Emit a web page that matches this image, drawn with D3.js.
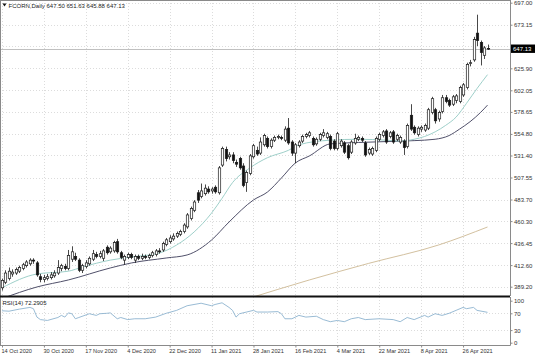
<!DOCTYPE html>
<html><head><meta charset="utf-8">
<script src="https://cdnjs.cloudflare.com/ajax/libs/d3/7.8.5/d3.min.js"></script>
<style>body{margin:0;background:#fff;} svg{display:block;font-family:"Liberation Sans",Arial,sans-serif;}</style>
</head><body><svg id="c" width="536" height="357"></svg>
<script>
// ---------- data ----------
const symbolTitle = "FCORN,Daily";
const lastOHLC = ["647.50","651.63","645.88","647.13"];
const barOpen  = [388,394,398,403,404,406,409,412,414,418,415,400,397,398,399,401,404,409,411,409,419,422,418,407,411,414,419,424,422,420,432,427,428,438,426,418,421,424,418,422,420,422,421,423,424,428,429,435,438,441,444,446,449,454,463,472,491,487,490,495,493,497,491,521,538,530,532,524,528,520,502,512,530,537,534,543,550,541,548,551,551,548,561,546,534,542,547,552,553,550,544,549,553,551,552,547,539,542,545,542,535,545,549,550,545,534,533,537,549,553,558,552,557,549,546,547,541,575,562,554,560,559,561,578,581,571,579,594,591,587,591,590,597,605,631,635,664,654,640,647.5];
const barHigh  = [398,407,410,408,410,412,415,418,420,420,417,403,402,403,405,407,418,414,414,429,433,426,420,414,418,422,429,427,428,430,434,433,439,441,428,424,426,426,424,424,425,424,425,428,430,431,438,442,445,447,449,451,458,469,476,483,494,501,500,498,497,499,520,541,541,535,535,527,530,523,515,533,544,541,551,555,552,550,553,554,553,563,572,548,545,548,554,556,558,552,551,556,560,557,554,549,557,549,547,544,548,555,553,552,547,540,541,552,556,559,560,558,559,555,553,549,566,587,564,563,564,566,583,595,583,580,597,597,593,597,598,607,610,632,635,660,684,656,650,651.63];
const barLow   = [385,392,396,400,402,404,407,410,412,414,400,394,394,396,397,399,402,406,407,407,416,417,405,404,409,412,417,420,420,417,424,425,426,425,419,413,419,419,415,418,418,419,419,421,422,425,427,433,436,439,442,444,447,452,461,470,480,485,488,490,490,490,489,519,525,527,523,519,516,497,492,510,528,531,532,541,539,539,546,549,548,546,543,531,523,540,545,550,551,541,542,547,551,549,537,537,537,540,533,527,533,543,547,546,530,532,531,535,547,551,544,550,544,547,544,532,539,558,554,552,557,557,559,576,566,568,577,588,584,585,588,588,595,603,628,633,650,629,636,645.88];
const barClose = [396,404,406,405,408,410,413,416,418,417,402,397,399,400,402,404,410,412,409,423,427,419,407,412,415,420,425,422,425,428,426,431,437,427,421,422,424,421,422,420,422,421,423,426,428,427,436,440,442,444,447,449,456,467,474,481,483,493,496,492,495,492,518,539,528,532,526,522,518,499,513,531,542,533,546,553,541,548,551,552,550,560,545,534,543,546,552,554,556,543,549,554,556,555,539,539,555,547,535,529,546,550,551,548,532,538,539,550,554,557,546,556,546,553,551,540,564,560,556,561,562,564,581,593,569,578,594,590,586,595,596,605,608,630,632,657,656,643,648,647.13];

// moving averages, read at sample bars
const maFastBars   = [0,10,19,23,31,37,45,50,55,60,63,66,71,76,82,85,94,102,110,114,118,121,124,127,130,133,136,139];
const maFastValues = [388,403,406,410.5,418,421.4,425.7,434.4,448.5,469,485,502,518,529,537,543,548,549,548,547,549,552,557,564,573,588,604,619];
const maSlowBars   = [0,10,19,31,37,47,53,60,65,72,76,80,84,88,94,102,110,118,124,128,131,134,137,139];
const maSlowValues = [376.3,388.9,396.5,409.5,414.9,420.3,423.6,439.8,459.3,483.2,491.8,507,523.3,530.9,544,545.5,546.5,547.5,549,553,560,568,578,586];
const maLongBars   = [70,88,105,125,139];
const maLongValues = [375.8,396.5,414.5,434.4,453.9];

// RSI(14), read at sample bars
const rsiBars   = [0,2,5,8,9,10,11,13,16,17,18,19,20,21,22,25,27,28,30,31,33,34,36,38,41,44,47,50,53,57,60,61,63,65,66,67,68,70,72,73,76,79,80,81,83,85,87,90,92,94,96,98,100,102,104,108,112,114,116,118,121,122,124,126,128,130,132,133,135,136,139];
const rsiValues = [76,75,80,84,81,61,55,53,60,65,61,71,69,57,60,69,65,69,70,71,57,60,55,57,57,61,70,77,88,94,88,91,95,84,77,61,69,73,77,73,73,74,69,57,57,65,61,63,55,50,53,50,57,60,55,57,55,50,60,55,65,61,69,65,70,77,84,81,84,77,72.29];
const rsiLast = "72.2905";

// axis labels (the 649.75 level is hidden under the last-price box)
const priceTicks = [697.00,673.15,649.75,625.90,602.05,578.65,554.80,531.40,507.55,483.70,460.30,436.45,412.60,389.20];
const hiddenPriceTick = 649.75;
const rsiTicks = [100,70,30,0];
const dateBars = [0,12,24,36,48,60,72,84,96,108,120,132];
const dateLabels = ["14 Oct 2020","30 Oct 2020","17 Nov 2020","4 Dec 2020","22 Dec 2020","11 Jan 2021","28 Jan 2021","16 Feb 2021","4 Mar 2021","22 Mar 2021","8 Apr 2021","26 Apr 2021"];

// ---------- layout ----------
const svg = d3.select("#c");
const plotRight = 510, mainBottom = 296, rsiTop = 297, rsiBottom = 345.5;
const x = d3.scaleLinear().domain([0,139]).range([2,487.5]);
const y = d3.scaleLinear().domain([389.2,697.0]).range([286.7,2.7]);
const yr = d3.scaleLinear().domain([0,100]).range([342.7,300.7]);
const gridCol = "#cdcdcd";

svg.append("rect").attr("width",536).attr("height",357).attr("fill","#fff");
const defs = svg.append("defs");
defs.append("clipPath").attr("id","mainClip").append("rect").attr("x",0).attr("y",0).attr("width",plotRight).attr("height",mainBottom);
defs.append("clipPath").attr("id","rsiClip").append("rect").attr("x",0).attr("y",rsiTop).attr("width",plotRight).attr("height",rsiBottom-rsiTop);

// grid
const grid = svg.append("g").attr("stroke",gridCol).attr("stroke-width",0.7).attr("stroke-dasharray","1,2");
grid.selectAll(".hg").data(priceTicks).join("line")
  .attr("x1",0).attr("x2",plotRight).attr("y1",d=>Math.round(y(d))+0.5).attr("y2",d=>Math.round(y(d))+0.5);
grid.selectAll(".vg").data(dateBars).join("line")
  .attr("x1",d=>Math.round(x(d))+0.5).attr("x2",d=>Math.round(x(d))+0.5).attr("y1",0).attr("y2",mainBottom);
grid.selectAll(".vg2").data(dateBars).join("line")
  .attr("x1",d=>Math.round(x(d))+0.5).attr("x2",d=>Math.round(x(d))+0.5).attr("y1",rsiTop).attr("y2",rsiBottom);
grid.selectAll(".rg").data([70,30]).join("line")
  .attr("x1",0).attr("x2",plotRight).attr("y1",d=>Math.round(yr(d))+0.5).attr("y2",d=>Math.round(yr(d))+0.5);

// bid line
svg.append("line").attr("x1",0).attr("x2",plotRight)
  .attr("y1",Math.round(y(+lastOHLC[3]))+0.5).attr("y2",Math.round(y(+lastOHLC[3]))+0.5)
  .attr("stroke","#b0b0b0").attr("stroke-width",0.8);

const main = svg.append("g").attr("clip-path","url(#mainClip)");

// moving averages
const mkLine = (bars, vals, col, w) => {
  const pts = bars.map((b,i)=>[x(b), y(vals[i])]);
  main.append("path").attr("d", d3.line().curve(d3.curveMonotoneX)(pts))
    .attr("fill","none").attr("stroke",col).attr("stroke-width",w);
};
mkLine(maLongBars, maLongValues, "#cdb994", 0.9);
mkLine(maSlowBars, maSlowValues, "#50506a", 1);
mkLine(maFastBars, maFastValues, "#93c9c3", 0.9);

// candles
const idx = d3.range(barClose.length);
main.append("g").selectAll("line").data(idx).join("line")
  .attr("x1",i=>Math.round(x(i))+0.5).attr("x2",i=>Math.round(x(i))+0.5)
  .attr("y1",i=>y(barHigh[i])).attr("y2",i=>y(barLow[i]))
  .attr("stroke","#1a1a1a").attr("stroke-width",0.8);
main.append("g").selectAll("rect").data(idx).join("rect")
  .attr("x",i=>Math.round(x(i))-0.7).attr("width",2.4)
  .attr("y",i=>y(Math.max(barOpen[i],barClose[i])))
  .attr("height",i=>Math.max(0.8, Math.abs(y(barOpen[i])-y(barClose[i]))))
  .attr("fill",i=>barClose[i]>=barOpen[i]?"#fff":"#111")
  .attr("stroke","#1a1a1a").attr("stroke-width",0.7);

// RSI
svg.append("g").attr("clip-path","url(#rsiClip)").append("path")
  .attr("d", d3.line()(rsiBars.map((b,i)=>[x(b), yr(rsiValues[i])])))
  .attr("fill","none").attr("stroke","#8db3cf").attr("stroke-width",0.9);

// frames
const frame = svg.append("g").attr("stroke","#8a8a8a").attr("stroke-width",1).attr("fill","none");
frame.append("line").attr("x1",0.5).attr("x2",0.5).attr("y1",0).attr("y2",rsiBottom);
frame.append("line").attr("x1",0).attr("x2",plotRight).attr("y1",0.5).attr("y2",0.5);
svg.append("line").attr("x1",0).attr("x2",plotRight).attr("y1",mainBottom+0.5).attr("y2",mainBottom+0.5)
  .attr("stroke","#111").attr("stroke-width",2);

// price axis
const pAxis = svg.append("g").attr("transform",`translate(${plotRight+0.5},0)`)
  .call(d3.axisRight(y).tickValues(priceTicks)
    .tickFormat(d => d === hiddenPriceTick ? "" : d3.format(".2f")(d)).tickSize(2).tickPadding(1.5));
pAxis.select(".domain").attr("d",`M0,0V${mainBottom}`).attr("stroke","#8a8a8a");
pAxis.selectAll(".tick line").attr("stroke","#8a8a8a");
pAxis.selectAll("text").attr("font-size",6).attr("fill","#333").attr("font-family","Liberation Sans, Arial, sans-serif");

// rsi axis
const rAxis = svg.append("g").attr("transform",`translate(${plotRight+0.5},0)`)
  .call(d3.axisRight(yr).tickValues(rsiTicks).tickSize(2).tickPadding(1.5));
rAxis.select(".domain").attr("d",`M0,${rsiTop}V${rsiBottom}`).attr("stroke","#8a8a8a");
rAxis.selectAll(".tick line").attr("stroke","#8a8a8a");
rAxis.selectAll("text").attr("font-size",6).attr("fill","#333").attr("font-family","Liberation Sans, Arial, sans-serif");

// date axis
const dAxis = svg.append("g").attr("transform",`translate(0,${rsiBottom})`)
  .call(d3.axisBottom(x).tickValues(dateBars).tickFormat((d,i)=>dateLabels[i]).tickSize(2).tickPadding(2));
dAxis.select(".domain").attr("d",`M0,0H${plotRight+0.5}`).attr("stroke","#8a8a8a");
dAxis.selectAll(".tick line").attr("stroke","#8a8a8a");
dAxis.selectAll("text").attr("text-anchor","start").attr("dx",-1).attr("font-size",5.6).attr("fill","#333").attr("font-family","Liberation Sans, Arial, sans-serif");

// last price label
const lpY = y(+lastOHLC[3]);
svg.append("rect").attr("x",plotRight+1).attr("y",lpY-4.2).attr("width",24).attr("height",8.4).attr("fill","#000");
svg.append("text").attr("x",plotRight+3).attr("y",lpY+2.1).attr("font-size",6).attr("fill","#fff").text(lastOHLC[3]);

// titles
svg.append("path").attr("d","M2.5,3.5 L6.5,3.5 L4.5,6.5 Z").attr("fill","#111");
svg.append("text").attr("x",8.5).attr("y",8).attr("font-size",6).attr("fill","#222")
  .text(symbolTitle+"  "+lastOHLC.join(" "));
svg.append("text").attr("x",2.5).attr("y",304.5).attr("font-size",6).attr("fill","#222")
  .text("RSI(14) "+rsiLast);
</script></body></html>
